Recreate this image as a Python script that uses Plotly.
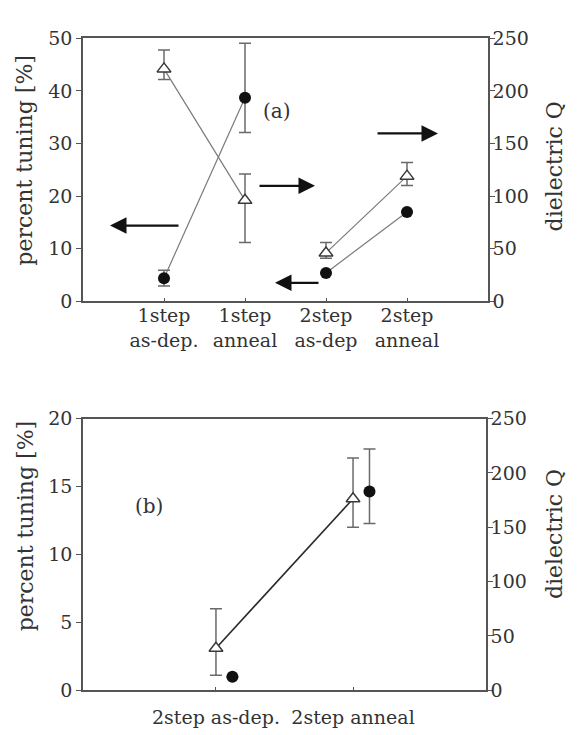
import plotly.graph_objects as go

W, H = 580, 735
FONT = "DejaVu Serif"

# ---------------- data: panel (a) ----------------
cats_a = ["1step<br>as-dep.", "1step<br>anneal", "2step<br>as-dep", "2step<br>anneal"]
tuning_a = [4.4, 38.7, 5.4, 17.0]          # percent tuning (filled circles, left axis)
tuning_a_plus = [1.5, 10.4, 0, 0]
tuning_a_minus = [1.5, 6.6, 0, 0]
q_a = [221, 96, 46, 119]                   # dielectric Q (open triangles, right axis)
q_a_plus = [18, 25, 10, 13]
q_a_minus = [10, 40, 5, 9]

# ---------------- data: panel (b) ----------------
cats_b = ["2step as-dep.", "2step anneal"]
tuning_b = [3.1, 14.1]                     # open triangles, left axis
tuning_b_plus = [2.9, 3.0]
tuning_b_minus = [2.0, 2.1]
q_b = [12.5, 183]                          # filled circles, right axis
q_b_plus = [0, 39]
q_b_minus = [0, 29.5]

DODGE_B = 0.12
ERR_COL = "#6a6a6a"

def px_x(p):
    return p / W

def px_y(p):
    return 1 - p / H

fig = go.Figure()

xa = list(range(1, len(cats_a) + 1))
groups = [(0, 2), (2, 4)]

def err(plus, minus, i0, i1):
    return dict(type="data", symmetric=False, array=plus[i0:i1], arrayminus=minus[i0:i1],
                color=ERR_COL, thickness=1.5, width=6)

for (i0, i1) in groups:
    fig.add_trace(go.Scatter(
        x=xa[i0:i1], y=q_a[i0:i1], xaxis="x", yaxis="y2", mode="lines+markers",
        line=dict(color="#7a7a7a", width=1.2),
        marker=dict(symbol="triangle-up", size=12, color="white",
                    line=dict(color="#3a3a3a", width=1.5)),
        error_y=err(q_a_plus, q_a_minus, i0, i1), showlegend=False))
    fig.add_trace(go.Scatter(
        x=xa[i0:i1], y=tuning_a[i0:i1], xaxis="x", yaxis="y", mode="lines+markers",
        line=dict(color="#7a7a7a", width=1.2),
        marker=dict(symbol="circle", size=12, color="#111111"),
        error_y=err(tuning_a_plus, tuning_a_minus, i0, i1), showlegend=False))

xb = list(range(1, len(cats_b) + 1))
fig.add_trace(go.Scatter(
    x=xb, y=tuning_b, xaxis="x2", yaxis="y3", mode="lines+markers",
    line=dict(color="#2a2a2a", width=1.6),
    marker=dict(symbol="triangle-up", size=12, color="white",
                line=dict(color="#3a3a3a", width=1.5)),
    error_y=dict(type="data", symmetric=False, array=tuning_b_plus, arrayminus=tuning_b_minus,
                 color=ERR_COL, thickness=1.5, width=6),
    showlegend=False))
fig.add_trace(go.Scatter(
    x=[v + DODGE_B for v in xb], y=q_b, xaxis="x2", yaxis="y4", mode="markers",
    marker=dict(symbol="circle", size=12, color="#111111"),
    error_y=dict(type="data", symmetric=False, array=q_b_plus, arrayminus=q_b_minus,
                 color=ERR_COL, thickness=1.5, width=6),
    showlegend=False))

axis_common = dict(showline=True, linecolor="#555555", linewidth=1.5, showgrid=False,
                   zeroline=False, tickcolor="#555555",
                   tickfont=dict(family=FONT, size=19, color="#333333"))

fig.update_layout(
    width=W, height=H, margin=dict(l=0, r=0, t=0, b=0),
    paper_bgcolor="white", plot_bgcolor="white",
    xaxis=dict(domain=[px_x(75), px_x(480)], anchor="y", range=[0, 5],
               tickvals=xa, ticktext=cats_a, ticks="inside", ticklen=4, mirror=True,
               ticklabelstandoff=-4, **axis_common),
    yaxis=dict(domain=[px_y(291), px_y(20)], anchor="x", range=[0, 50], dtick=10,
               ticks="outside", ticklen=5, **axis_common),
    yaxis2=dict(overlaying="y", side="right", anchor="x", range=[0, 250], dtick=50,
                ticks="outside", ticklen=5, ticklabelstandoff=-6, **axis_common),
    xaxis2=dict(domain=[px_x(75), px_x(478)], anchor="y3", range=[0.03, 2.97],
                tickvals=xb, ticktext=cats_b, ticks="inside", ticklen=4, mirror=True,
                ticklabelstandoff=9, **axis_common),
    yaxis3=dict(domain=[px_y(692), px_y(412)], anchor="x2", range=[0, 20], dtick=5,
                ticks="outside", ticklen=5, **axis_common),
    yaxis4=dict(overlaying="y3", side="right", anchor="x2", range=[0, 250], dtick=50,
                ticks="outside", ticklen=5, ticklabelstandoff=-6, **axis_common),
)

title_font = dict(family=FONT, size=22, color="#333333")
texts = [
    ("percent tuning [%]", 17, 146, -90, title_font),
    ("dielectric Q", 546, 152, -90, title_font),
    ("percent tuning [%]", 17, 523, -90, title_font),
    ("dielectric Q", 546, 531, -90, title_font),
    ("(a)", 269, 95, 0, dict(family=FONT, size=20, color="#333333")),
    ("(b)", 141, 502, 0, dict(family=FONT, size=20, color="#333333")),
]
for t, x, y, ang, f in texts:
    fig.add_annotation(text=t, x=px_x(x), y=px_y(y), xref="paper", yref="paper",
                       showarrow=False, textangle=ang, font=f,
                       xanchor="center", yanchor="middle")

arrows = [(102, 213, 70), (307, 172, -57), (267, 272, 45), (430, 118, -62)]
for hx, hy, dx in arrows:
    fig.add_annotation(text="", x=px_x(hx), y=px_y(hy), xref="paper", yref="paper",
                       showarrow=True, ax=dx, ay=0, arrowhead=2, arrowsize=1.5,
                       arrowwidth=2.2, arrowcolor="#111111")

fig.write_html("out.html")
